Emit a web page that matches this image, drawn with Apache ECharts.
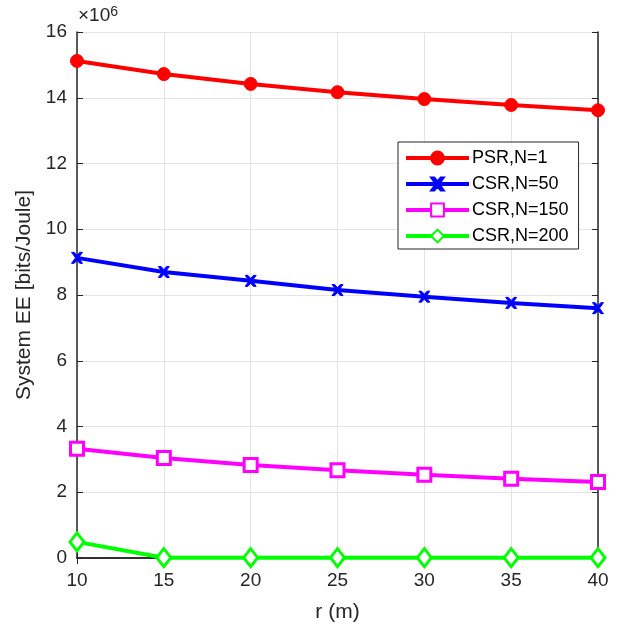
<!DOCTYPE html>
<html><head><meta charset="utf-8">
<script src="https://cdn.jsdelivr.net/npm/echarts@6/dist/echarts.min.js"></script>
<style>html,body{margin:0;padding:0;background:#fff}#c{width:620px;height:627px}</style>
</head><body><div id="c"></div>
<script>
const rValues = [10, 15, 20, 25, 30, 35, 40];
const psrN1 = [15.12, 14.72, 14.42, 14.17, 13.96, 13.78, 13.62];
const csrN50 = [9.13, 8.70, 8.43, 8.15, 7.95, 7.76, 7.60];
const csrN150 = [3.32, 3.04, 2.83, 2.67, 2.53, 2.41, 2.31];
const csrN200 = [0.49, 0.01, 0.01, 0.01, 0.01, 0.01, 0.01];
const seriesNames = ['PSR,N=1', 'CSR,N=50', 'CSR,N=150', 'CSR,N=200'];
const yTicks = [0, 2, 4, 6, 8, 10, 12, 14, 16];

const font = 'Liberation Sans, Arial, Helvetica, sans-serif';
const axisCol = '#262626';
const xPath = 'path://M0,0 L3,0 L6,3.5 L9,0 L12,0 L7.6,6 L12,12 L9,12 L6,8.5 L3,12 L0,12 L4.4,6 Z';

function mk(name, vals, color, symbol, size, hollow) {
  return {
    name: name, type: 'line', data: rValues.map((x, i) => [x, vals[i]]),
    clip: false, symbol: symbol, symbolSize: size, showSymbol: true,
    lineStyle: { color: color, width: 4 },
    itemStyle: hollow ? { color: '#fff', borderColor: color, borderWidth: 3 } : { color: color, borderColor: color, borderWidth: 1 },
    emphasis: { disabled: true }, animation: false
  };
}
const chart = echarts.init(document.getElementById('c'));
const gridLine = { show: true, lineStyle: { color: '#e3e3e3', width: 1 } };
chart.setOption({
  animation: false,
  grid: { left: 77, right: 22, top: 32, bottom: 69, containLabel: false, outerBoundsMode: 'none' },
  xAxis: [{
    type: 'value', min: 10, max: 40, interval: 5,
    name: 'r (m)', nameLocation: 'middle', nameGap: 44,
    nameTextStyle: { fontFamily: font, fontSize: 21, color: axisCol },
    axisLine: { show: true, lineStyle: { color: axisCol, width: 1.5 } },
    axisTick: { show: true, inside: true, length: 6, lineStyle: { color: axisCol } },
    axisLabel: { fontFamily: font, fontSize: 19, color: axisCol, margin: 13 },
    splitLine: gridLine
  }, {
    type: 'value', min: 10, max: 40, interval: 5, position: 'top',
    axisLine: { show: true, lineStyle: { color: axisCol, width: 1.5 } },
    axisTick: { show: true, inside: true, length: 6, lineStyle: { color: axisCol } },
    axisLabel: { show: false }, splitLine: { show: false }
  }],
  yAxis: [{
    type: 'value', min: 0, max: 16, interval: 2,
    name: 'System EE [bits/Joule]', nameLocation: 'middle', nameGap: 42,
    nameTextStyle: { fontFamily: font, fontSize: 21, color: axisCol },
    axisLine: { show: true, lineStyle: { color: axisCol, width: 1.5 } },
    axisTick: { show: true, inside: true, length: 6, lineStyle: { color: axisCol } },
    axisLabel: { fontFamily: font, fontSize: 19, color: axisCol, margin: 10,
      formatter: v => yTicks.includes(v) ? String(v) : '' },
    splitLine: gridLine
  }, {
    type: 'value', min: 0, max: 16, interval: 2, position: 'right',
    axisLine: { show: true, lineStyle: { color: axisCol, width: 1.5 } },
    axisTick: { show: true, inside: true, length: 6, lineStyle: { color: axisCol } },
    axisLabel: { show: false }, splitLine: { show: false }
  }],
  legend: {
    orient: 'vertical', left: 398, top: 142, width: 182,
    backgroundColor: '#fff', borderColor: axisCol, borderWidth: 1,
    padding: [7, 10, 4, 6], itemGap: 8, itemWidth: 63, itemHeight: 16,
    lineStyle: { width: 4 },
    textStyle: { fontFamily: font, fontSize: 18, color: '#000', padding: [0, 0, 0, -2] },
    data: seriesNames
  },
  graphic: [{
    type: 'text', left: 78, top: 5,
    style: { rich: { a: { fontFamily: font, fontSize: 19, fill: axisCol }, s: { fontFamily: font, fontSize: 14, fill: axisCol, verticalAlign: 'top', padding: [0,0,8,0] } },
      text: '{a|×10}{s|6}' }
  }],
  series: [
    mk(seriesNames[0], psrN1, '#ff0000', 'circle', 13, false),
    mk(seriesNames[1], csrN50, '#0000ff', xPath, 11, false),
    mk(seriesNames[2], csrN150, '#ff00ff', 'rect', 13, true),
    mk(seriesNames[3], csrN200, '#00ff00', 'diamond', [14, 18], true)
  ]
});
</script></body></html>
